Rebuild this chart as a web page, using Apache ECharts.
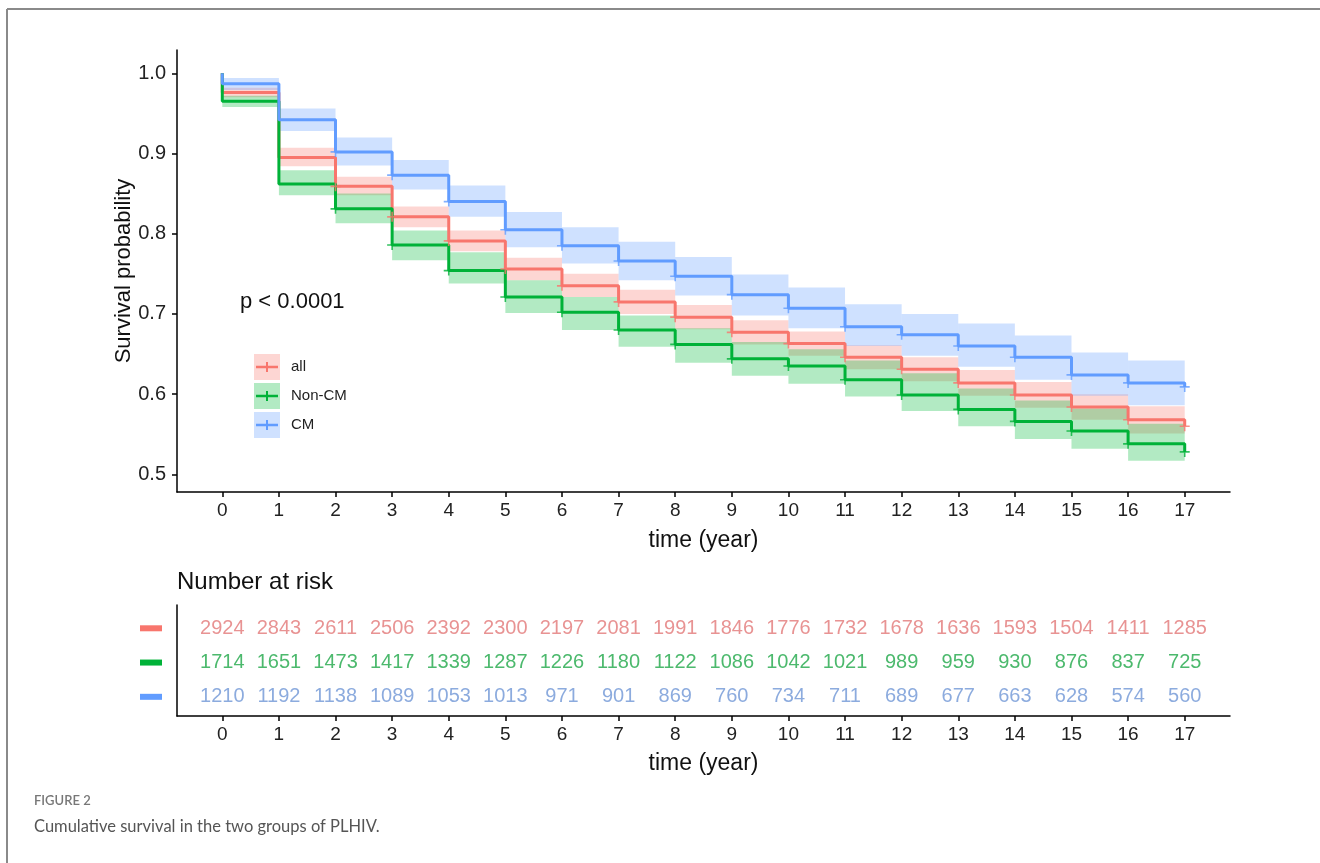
<!DOCTYPE html>
<html>
<head>
<meta charset="utf-8">
<script src="https://cdn.jsdelivr.net/npm/echarts@6/dist/echarts.min.js"></script>
<style>
html,body{margin:0;padding:0;background:#fff;}
#chart{width:1320px;height:863px;}
</style>
</head>
<body>
<div id="chart"></div>
<script>
// ---- data ----
const years = [0,1,2,3,4,5,6,7,8,9,10,11,12,13,14,15,16,17];
const yTicks = [0.5,0.6,0.7,0.8,0.9,1.0];
const groupNames = ['all','Non-CM','CM'];

// survival level on each interval [k, k+1), k = 0..16
const survAll = [0.976,0.895,0.859,0.821,0.791,0.756,0.735,0.715,0.696,0.677,0.663,0.646,0.631,0.614,0.599,0.584,0.568];
const survNon = [0.965,0.862,0.831,0.786,0.754,0.721,0.702,0.680,0.662,0.644,0.635,0.618,0.599,0.581,0.566,0.554,0.538];
const survCM  = [0.987,0.942,0.902,0.873,0.840,0.805,0.785,0.766,0.747,0.724,0.707,0.684,0.674,0.660,0.646,0.624,0.614];
// level at year 17
const endAll = 0.560, endNon = 0.528, endCM = 0.609;

// confidence band upper / lower on each interval
const upAll = [0.982,0.907,0.871,0.834,0.804,0.770,0.750,0.730,0.711,0.692,0.678,0.661,0.646,0.630,0.615,0.600,0.585];
const loAll = [0.970,0.884,0.848,0.808,0.778,0.742,0.721,0.700,0.681,0.662,0.648,0.631,0.616,0.598,0.583,0.568,0.551];
const upNon = [0.972,0.879,0.850,0.804,0.777,0.742,0.721,0.698,0.682,0.665,0.656,0.642,0.626,0.607,0.592,0.582,0.563];
const loNon = [0.958,0.848,0.813,0.767,0.738,0.701,0.680,0.659,0.639,0.623,0.613,0.597,0.579,0.560,0.544,0.532,0.517];
const upCM  = [0.994,0.956,0.920,0.892,0.860,0.827,0.808,0.790,0.771,0.749,0.733,0.712,0.700,0.688,0.673,0.652,0.642];
const loCM  = [0.979,0.928,0.885,0.855,0.821,0.783,0.763,0.742,0.723,0.698,0.682,0.660,0.648,0.634,0.618,0.598,0.586];

// number at risk
const riskAll = [2924,2843,2611,2506,2392,2300,2197,2081,1991,1846,1776,1732,1678,1636,1593,1504,1411,1285];
const riskNon = [1714,1651,1473,1417,1339,1287,1226,1180,1122,1086,1042,1021,989,959,930,876,837,725];
const riskCM  = [1210,1192,1138,1089,1053,1013,971,901,869,760,734,711,689,677,663,628,574,560];

// ---- styling ----
const colors = ['#F8766D','#00B238','#619CFF'];
const bandColors = ['rgba(248,118,109,0.3)','rgba(0,186,56,0.3)','rgba(97,156,255,0.3)'];
const textColors = ['#E27878','#1FA848','#6F96D6'];
const FONT = '"Liberation Sans", Arial, sans-serif';

function stepData(levels, endV){
  const d = [[0,1.0]];
  levels.forEach((v,k)=>d.push([years[k], v]));
  d.push([years[17], endV]);
  return d;
}
function bandData(up, lo){
  return up.map((u,k)=>[years[k], years[k+1], lo[k], u]);
}
function censorData(levels, endV){
  const d = [];
  for(let k=2;k<=16;k++) d.push([years[k], levels[k]]);
  d.push([years[17], endV]);
  return d;
}
function bandSeries(name, up, lo, idx){
  return {
    type:'custom', name:name, xAxisIndex:0, yAxisIndex:0,
    itemStyle:{color:bandColors[idx]},
    encode:{x:[0,1], y:[2,3]},
    data: bandData(up, lo),
    silent:true,
    renderItem:function(params, api){
      const p0 = api.coord([api.value(0), api.value(3)]);
      const p1 = api.coord([api.value(1), api.value(2)]);
      return {type:'rect', shape:{x:p0[0], y:p0[1], width:p1[0]-p0[0], height:p1[1]-p0[1]},
              style:{fill:bandColors[idx]}};
    },
    z:1
  };
}
const plusPath = 'path://M0,4.2 L10,4.2 L10,5.8 L0,5.8 Z M4.2,0 L5.8,0 L5.8,10 L4.2,10 Z';
const legendLineIcon = 'path://M0,0 L0.01,0 L0,0.01 Z M26,26 L25.99,26 L26,25.99 Z M2,11.8 L24,11.8 L24,14.2 L2,14.2 Z M12,8 L14,8 L14,18 L12,18 Z';

const rowY = [3,2,1];
const riskSets = [riskAll, riskNon, riskCM];

const series = [
  bandSeries('all CI', upAll, loAll, 0),
  bandSeries('Non-CM CI', upNon, loNon, 1),
  bandSeries('CM CI', upCM, loCM, 2)
];
[[survAll,endAll],[survNon,endNon],[survCM,endCM]].forEach((s,i)=>{
  series.push({
    type:'line', name:groupNames[i], xAxisIndex:0, yAxisIndex:0,
    step:'end', showSymbol:false, data:stepData(s[0], s[1]),
    lineStyle:{color:colors[i], width:3}, itemStyle:{color:colors[i]},
    silent:true, z:3
  });
  series.push({
    type:'scatter', name:groupNames[i]+' censor', xAxisIndex:0, yAxisIndex:0,
    symbol:plusPath, symbolSize:10, data:censorData(s[0], s[1]),
    itemStyle:{color:colors[i]}, silent:true, z:4
  });
});
riskSets.forEach((r,i)=>{
  series.push({
    type:'scatter', name:groupNames[i]+' risk', xAxisIndex:1, yAxisIndex:1,
    symbolSize:0, silent:true,
    data: r.map((n,k)=>[years[k], rowY[i], n]),
    label:{show:true, position:'inside', formatter:p=>String(p.value[2]),
           color:textColors[i], fontSize:20, fontFamily:FONT}
  });
});

const axisLine = {show:true, onZero:false, lineStyle:{color:'#000', width:1.5}};
const axisTick = {show:true, length:5, lineStyle:{color:'#000', width:1.5}};

const option = {
  backgroundColor:'#fff',
  animation:false,
  textStyle:{fontFamily:FONT},
  title:[
    {text:'Number at risk', left:177, top:570, padding:0, textStyle:{fontSize:24, fontWeight:'normal', color:'#111', fontFamily:FONT}},
    {text:'FIGURE 2', left:34, top:794, padding:0, textStyle:{fontSize:13, fontWeight:600, color:'#777', fontFamily:'Lato, "Open Sans", sans-serif'}},
    {text:'Cumulative survival in the two groups of PLHIV.', left:34, top:818, padding:0, textStyle:{fontSize:16.5, fontWeight:'normal', color:'#555', fontFamily:'Lato, "Open Sans", sans-serif'}}
  ],
  legend:[
    {data:['all CI','Non-CM CI','CM CI'], orient:'vertical', left:254, top:354, padding:0,
     itemWidth:26, itemHeight:26, itemGap:3, icon:'rect', selectedMode:false,
     textStyle:{color:'rgba(0,0,0,0)', fontSize:15}},
    {data:groupNames, orient:'vertical', left:254, top:354, padding:0,
     itemWidth:26, itemHeight:26, itemGap:3, icon:legendLineIcon, selectedMode:false,
     textStyle:{color:'#222', fontSize:15, fontFamily:FONT, padding:[4,0,0,6]}}
  ],
  grid:[
    {left:177, right:90, top:50, bottom:371},
    {left:177, right:90, top:605, bottom:147}
  ],
  xAxis:[
    {type:'value', gridIndex:0, min:-0.8, max:17.8,
     axisLine:axisLine, axisTick:Object.assign({customValues:years}, axisTick),
     axisLabel:{customValues:years, fontSize:19, color:'#222', margin:9},
     splitLine:{show:false},
     name:'time (year)', nameLocation:'middle', nameGap:37,
     nameTextStyle:{fontSize:23, color:'#111'}},
    {type:'value', gridIndex:1, min:-0.8, max:17.8,
     axisLine:axisLine, axisTick:Object.assign({customValues:years}, axisTick),
     axisLabel:{customValues:years, fontSize:19, color:'#222', margin:9},
     splitLine:{show:false},
     name:'time (year)', nameLocation:'middle', nameGap:36,
     nameTextStyle:{fontSize:23, color:'#111'}}
  ],
  yAxis:[
    {type:'value', gridIndex:0, min:0.478, max:1.029,
     axisLine:axisLine, axisTick:Object.assign({customValues:yTicks}, axisTick),
     axisLabel:{customValues:yTicks, fontSize:20, color:'#222', margin:11, formatter:v=>v.toFixed(1)},
     splitLine:{show:false},
     name:'Survival probability', nameLocation:'middle', nameGap:42, nameRotate:90,
     nameMoveOverlap:false,
     nameTextStyle:{fontSize:22, color:'#111'}},
    {type:'value', gridIndex:1, min:0.44, max:3.68,
     axisLine:axisLine, axisTick:{show:false},
     axisLabel:{customValues:rowY, margin:15,
       formatter:v=>v===3?'{a|}':(v===2?'{b|}':'{c|}'),
       rich:{a:{backgroundColor:colors[0], width:22, height:6},
             b:{backgroundColor:colors[1], width:22, height:6},
             c:{backgroundColor:colors[2], width:22, height:6}}},
     splitLine:{show:false}}
  ],
  graphic:[
    {type:'text', left:240, top:291, style:{text:'p < 0.0001', fontSize:22, fill:'#111', fontFamily:FONT}},
    {type:'line', shape:{x1:7, y1:9, x2:1320, y2:9}, style:{stroke:'#8a8a8a', lineWidth:2}},
    {type:'line', shape:{x1:7, y1:9, x2:7, y2:863}, style:{stroke:'#8a8a8a', lineWidth:2}}
  ],
  series:series
};
const chart = echarts.init(document.getElementById('chart'));
chart.setOption(option);
</script>
</body>
</html>
